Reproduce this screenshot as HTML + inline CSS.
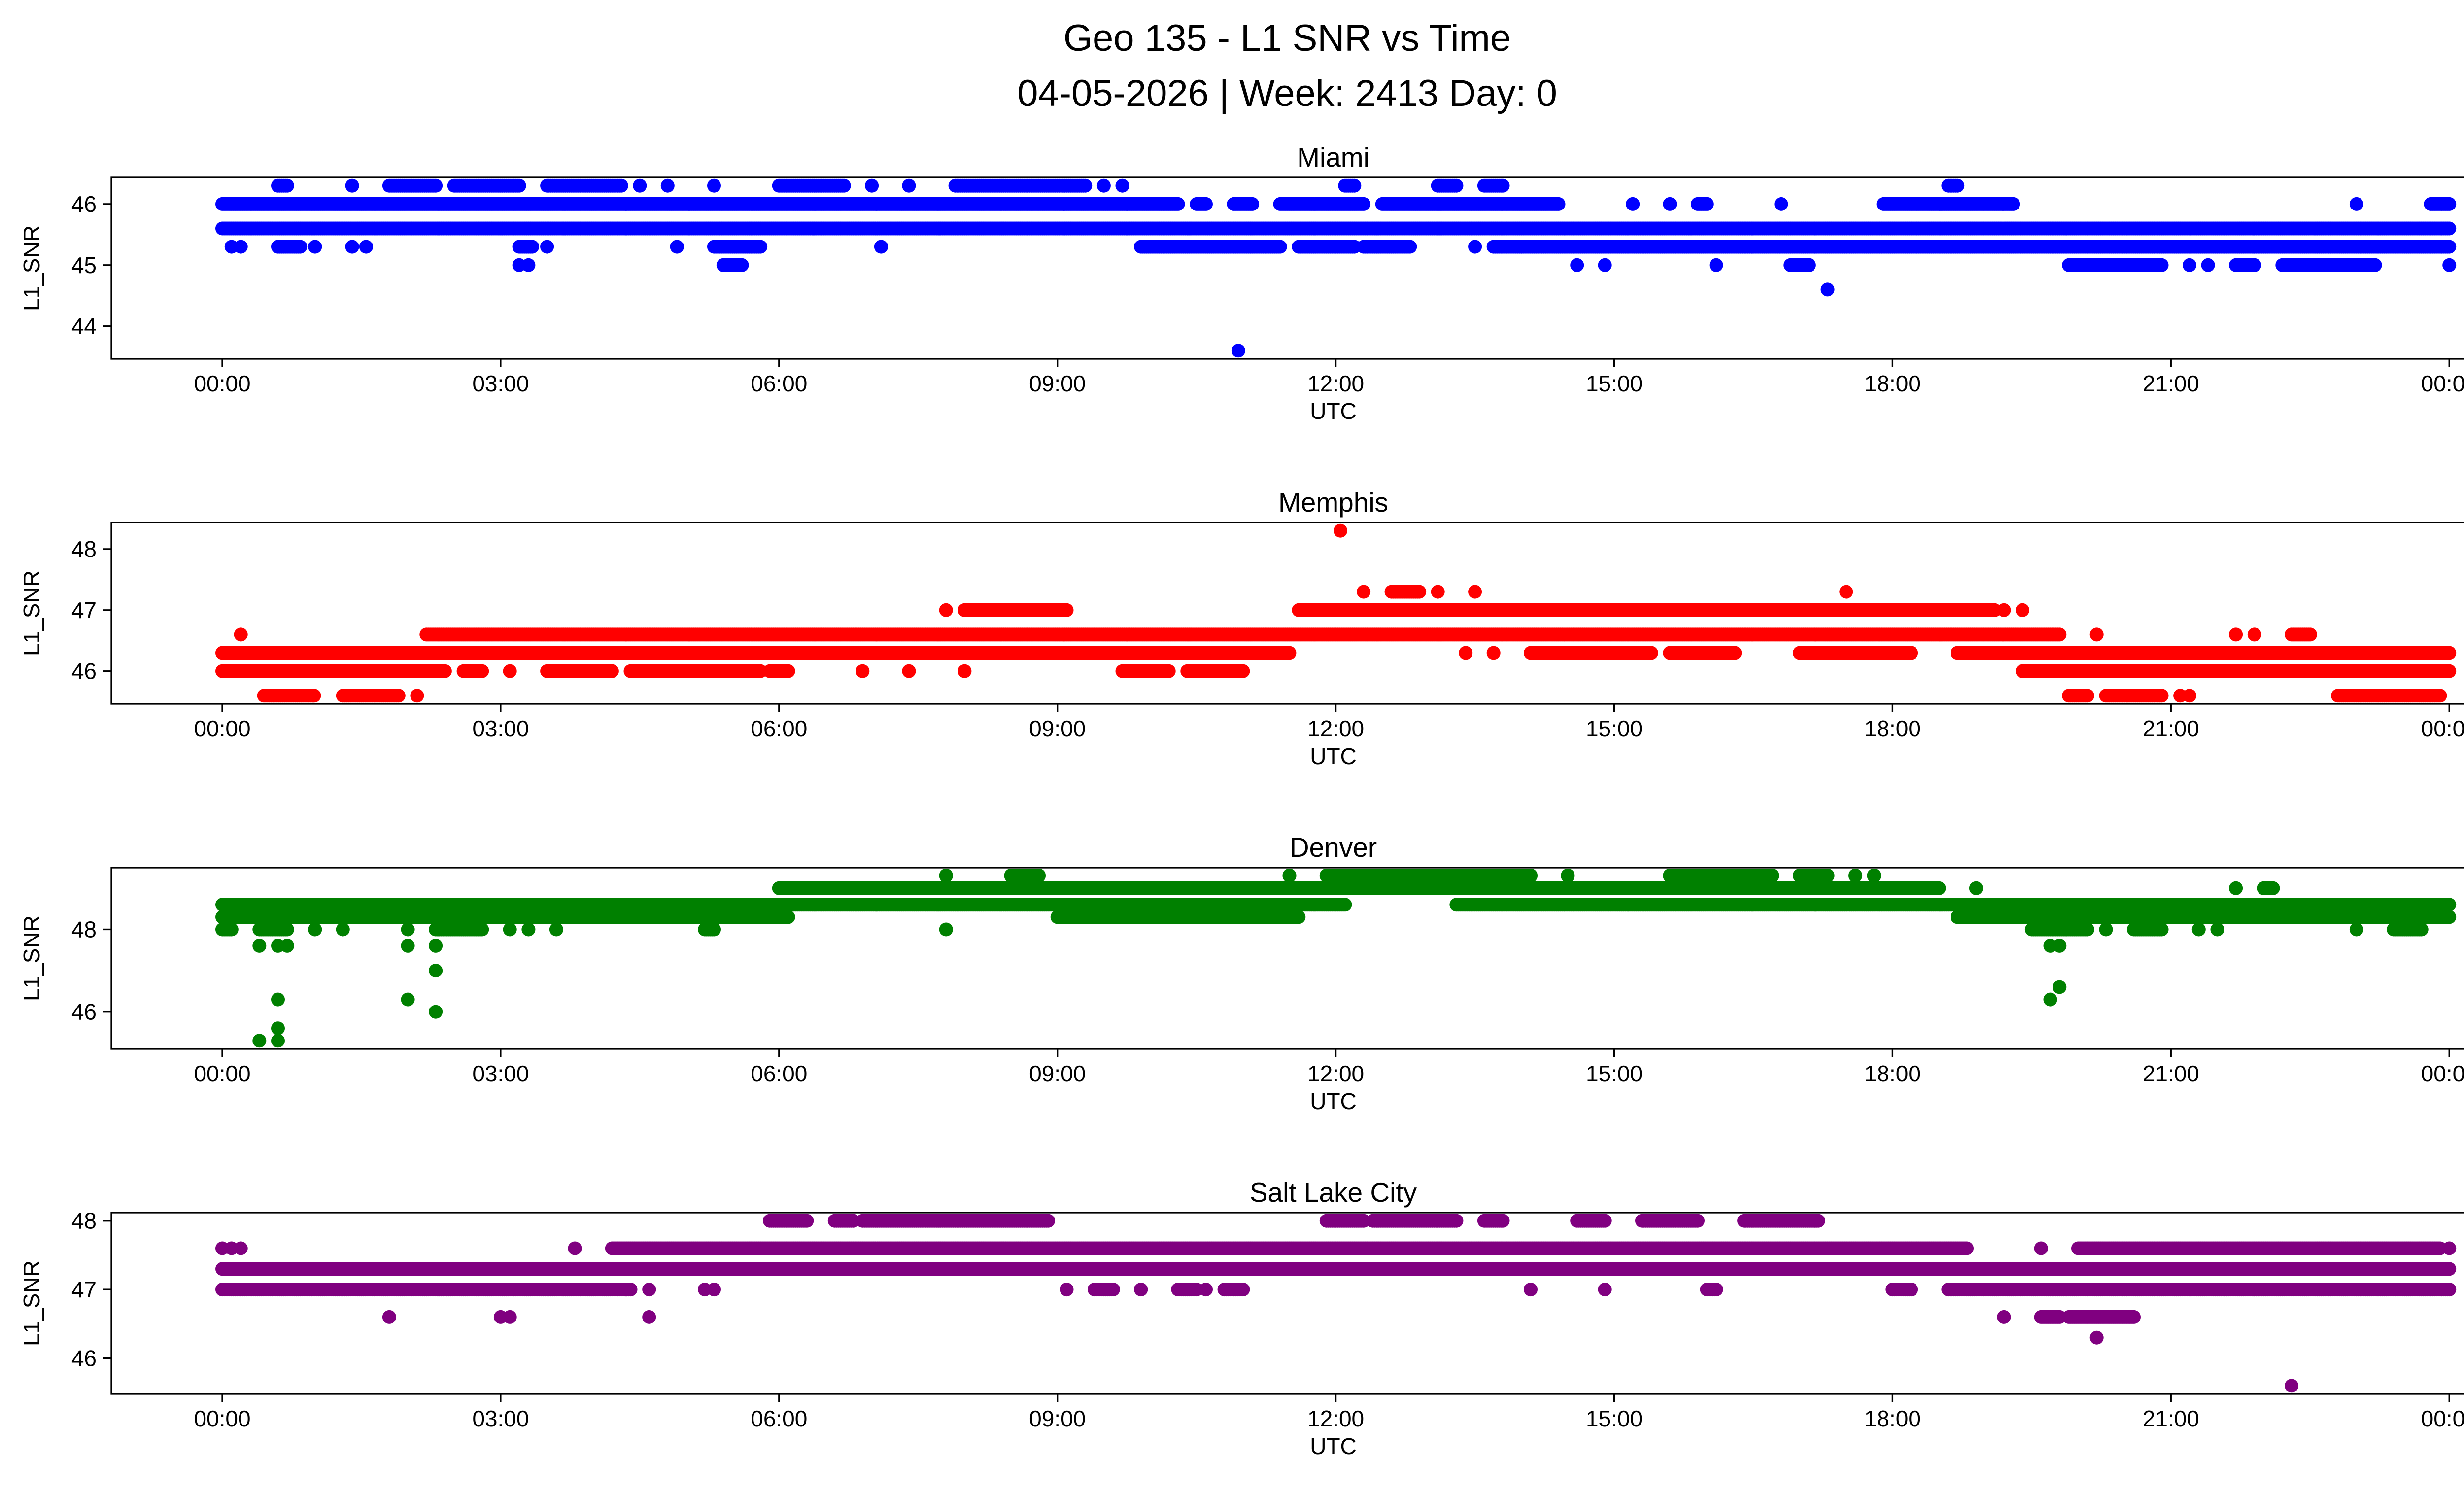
<!DOCTYPE html>
<html><head><meta charset="utf-8">
<style>
html,body{margin:0;padding:0;background:#fff;}
svg{display:block;font-family:"Liberation Sans","DejaVu Sans",sans-serif;}
</style></head>
<body>
<svg id="chart" width="5225" height="3033" viewBox="0 0 5225 3033" xmlns="http://www.w3.org/2000/svg">
<rect width="5225" height="3033" fill="#fff"/>
<text x="2612" y="103" font-size="76" text-anchor="middle">Geo 135 - L1 SNR vs Time</text>
<text x="2612" y="215" font-size="76" text-anchor="middle">04-05-2026 | Week: 2413 Day: 0</text>
<g id="panels"></g>
</svg>
<script>
// ---- Data (hours UTC, SNR level) ----
const tickLabels = ["00:00","03:00","06:00","09:00","12:00","15:00","18:00","21:00","00:00"];
const tickHours = [0,3,6,9,12,15,18,21,24];
const panelNames = ["Miami","Memphis","Denver","Salt Lake City"];
const panelColors = ["#0000ff","#ff0000","#008000","#800080"];
const panelYTicks = [[44,45,46],[46,47,48],[46,48],[46,47,48]];

const miamiLevel = [46.0,46.0,46.0,46.0,46.0,46.0,46.0,46.0,46.0,46.0,46.0,46.0, 45.6, 45.3,45.3,45.3,45.3,45.3,45.3,45.3,45.3,45.3,45.3,45.3,45.3,45.3,45.3,45.3,45.3,45.3, 45.0,45.0,45.0,45.0,45.0,45.0,45.0,45.0,45.0,45.0,45.0,45.0,45.0, 46.3,46.3,46.3,46.3,46.3,46.3,46.3,46.3,46.3,46.3,46.3,46.3,46.3,46.3,46.3,46.3,46.3,46.3, 44.6, 43.6];
const miamiStart = [0,10.5,10.9,11.4,12.5,15.2,15.6,15.9,16.8,17.9,23.0,23.8, 0, 0.1,0.2,0.6,1.0,1.4,1.55,3.2,3.5,4.9,5.3,7.1,9.9,11.6,12.3,13.5,13.7,14.0, 3.2,5.4,14.6,14.9,16.1,16.9,19.9,21.2,21.4,21.7,22.2,24.0,3.3, 0.6,1.4,1.8,2.5,3.5,4.5,4.8,5.3,6.0,7.0,7.4,7.9,9.5,9.7,12.1,13.1,13.6,18.6, 17.3, 10.95];
const miamiEnd   = [10.3,10.6,11.1,12.3,14.4,15.2,15.6,16.0,16.8,19.3,23.0,24.0, 24, 0.1,0.2,0.85,1.0,1.4,1.55,3.35,3.5,4.9,5.8,7.1,11.4,12.2,12.8,13.5,14.0,24.0, 3.2,5.6,14.6,14.9,16.1,17.1,20.9,21.2,21.4,21.9,23.2,24.0,3.3, 0.7,1.4,2.3,3.2,4.3,4.5,4.8,5.3,6.7,7.0,7.4,9.3,9.5,9.7,12.2,13.3,13.8,18.7, 17.3, 10.95];

const memphisLevel = [46.3,46.3,46.3,46.3,46.3,46.3,46.3, 46.0,46.0,46.0,46.0,46.0,46.0,46.0,46.0,46.0,46.0,46.0,46.0, 46.6,46.6,46.6,46.6,46.6,46.6, 47.0,47.0,47.0,47.0,47.0, 47.3,47.3,47.3,47.3,47.3, 48.3, 45.6,45.6,45.6,45.6,45.6,45.6,45.6,45.6];
const memphisStart = [0,13.4,13.7,14.1,15.6,17.0,18.7, 0,2.6,3.1,3.5,4.4,5.9,6.9,7.4,8.0,9.7,10.4,19.4, 0.2,2.2,20.2,21.7,21.9,22.3, 7.8,8.0,11.6,19.2,19.4, 12.3,12.6,13.1,13.5,17.5, 12.05, 0.45,1.3,2.1,19.9,20.3,21.1,21.2,22.8];
const memphisEnd   = [11.5,13.4,13.7,15.4,16.3,18.2,24, 2.4,2.8,3.1,4.2,5.8,6.1,6.9,7.4,8.0,10.2,11.0,24, 0.2,19.8,20.2,21.7,21.9,22.5, 7.8,9.1,19.1,19.2,19.4, 12.3,12.9,13.1,13.5,17.5, 12.05, 1.0,1.9,2.1,20.1,20.9,21.1,21.2,23.9];

const denverLevel = [48.6,48.6, 48.3,48.3,48.3, 49.0,49.0,49.0,49.0, 49.3,49.3,49.3,49.3,49.3,49.3,49.3,49.3,49.3, 48.0,48.0,48.0,48.0,48.0,48.0,48.0,48.0,48.0,48.0,48.0,48.0,48.0,48.0,48.0,48.0,48.0,48.0, 47.6,47.6,47.6,47.6,47.6,47.6,47.6, 47.0, 46.3,46.3,46.3, 46.6, 46.0, 45.6, 45.3,45.3];
const denverStart = [0,13.3, 0,9.0,18.7, 6.0,18.9,21.7,22.0, 7.8,8.5,11.5,11.9,14.5,15.6,17.0,17.6,17.8, 0,0.4,1.0,1.3,2.0,2.3,3.1,3.3,3.6,5.2,7.8,19.5,20.3,20.6,21.3,21.5,23.0,23.4, 0.4,0.6,0.7,2.0,2.3,19.7,19.8, 2.3, 0.6,2.0,19.7, 19.8, 2.3, 0.6, 0.4,0.6];
const denverEnd   = [12.1,24, 6.1,11.6,24, 18.5,18.9,21.7,22.1, 7.8,8.8,11.5,14.1,14.5,16.7,17.3,17.6,17.8, 0.1,0.7,1.0,1.3,2.0,2.8,3.1,3.3,3.6,5.3,7.8,20.1,20.3,20.9,21.3,21.5,23.0,23.7, 0.4,0.6,0.7,2.0,2.3,19.7,19.8, 2.3, 0.6,2.0,19.7, 19.8, 2.3, 0.6, 0.4,0.6];

const slcLevel = [47.3, 47.0,47.0,47.0,47.0,47.0,47.0,47.0,47.0,47.0,47.0,47.0,47.0,47.0,47.0,47.0, 47.6,47.6,47.6,47.6,47.6,47.6,47.6,47.6, 48.0,48.0,48.0,48.0,48.0,48.0,48.0,48.0,48.0, 46.6,46.6,46.6,46.6,46.6,46.6,46.6, 46.3, 45.6];
const slcStart = [0, 0,4.6,5.2,5.3,9.1,9.4,9.9,10.3,10.6,10.8,14.1,14.9,16.0,18.0,18.6, 0,3.8,4.2,19.6,20.0,24.0,0.1,0.2, 5.9,6.6,6.9,11.9,12.4,13.6,14.6,15.3,16.4, 1.8,3.0,3.1,4.6,19.2,19.6,19.9, 20.2, 22.3];
const slcEnd   = [24, 4.4,4.6,5.2,5.3,9.1,9.6,9.9,10.5,10.6,11.0,14.1,14.9,16.1,18.2,24, 0,3.8,18.8,19.6,23.9,24.0,0.1,0.2, 6.3,6.8,8.9,12.3,13.3,13.8,14.9,15.9,17.2, 1.8,3.0,3.1,4.6,19.2,19.8,20.6, 20.2, 22.3];

const panelLevels = [miamiLevel, memphisLevel, denverLevel, slcLevel];
const panelStarts = [miamiStart, memphisStart, denverStart, slcStart];
const panelEnds = [miamiEnd, memphisEnd, denverEnd, slcEnd];
const panelYMin = [43.465, 45.465, 45.1, 45.48];
const panelYMax = [46.435, 48.435, 49.5, 48.12];

// ---- Layout ----
const NS = "http://www.w3.org/2000/svg";
const AX_L = 226, AX_R = 5185, AX_H = 368;
const AX_TOPS = [360, 1060, 1760, 2460];
const X0 = 451, PER_H = 188.3;
function xScale(t){ return X0 + t*PER_H; }
function yScale(p, v){ return AX_TOPS[p] + (panelYMax[p]-v)/(panelYMax[p]-panelYMin[p])*AX_H; }
function mk(tag, attrs){ const e=document.createElementNS(NS,tag); for(const k in attrs) e.setAttribute(k, attrs[k]); return e; }

const root = document.getElementById('panels');
for(let p=0;p<4;p++){
  const g = mk('g',{});
  
  
  root.appendChild(g);
  const top = AX_TOPS[p];
  const tt = mk('text',{x:(AX_L+AX_R)/2, y:top-22, 'font-size':55, 'text-anchor':'middle'});
  tt.textContent = panelNames[p];
  
  
  g.appendChild(tt);
  const pts = mk('g',{fill:panelColors[p]});
  
  
  g.appendChild(pts);
  const L = panelLevels[p], S = panelStarts[p], E = panelEnds[p];
  for(let i=0;i<L.length;i++){
    const cy = yScale(p, L[i]);
    for(let t=S[i]; t<=E[i]+1e-9; t+=0.02){
      const c = mk('circle',{cx:xScale(t).toFixed(1), cy:cy.toFixed(1), r:14});
      
      
      pts.appendChild(c);
    }
  }
  const fr = mk('rect',{x:AX_L, y:top, width:AX_R-AX_L, height:AX_H, fill:'none', stroke:'#000', 'stroke-width':3.3});
  
  
  g.appendChild(fr);
  for(let k=0;k<tickHours.length;k++){
    const x = xScale(tickHours[k]);
    const ln = mk('line',{x1:x, x2:x, y1:top+AX_H, y2:top+AX_H+16, stroke:'#000', 'stroke-width':3.3});
    
    
    g.appendChild(ln);
    const tx = mk('text',{x:x, y:top+AX_H+66, 'font-size':46, 'text-anchor':'middle'});
    tx.textContent = tickLabels[k];
    
    
    g.appendChild(tx);
  }
  const xl = mk('text',{x:(AX_L+AX_R)/2, y:top+AX_H+122, 'font-size':46, 'text-anchor':'middle'});
  xl.textContent = 'UTC';
  
  
  g.appendChild(xl);
  const yt = panelYTicks[p];
  for(let k=0;k<yt.length;k++){
    const y = yScale(p, yt[k]);
    const ln = mk('line',{x1:AX_L-16, x2:AX_L, y1:y, y2:y, stroke:'#000', 'stroke-width':3.3});
    
    
    g.appendChild(ln);
    const tx = mk('text',{x:AX_L-30, y:y+16, 'font-size':46, 'text-anchor':'end'});
    tx.textContent = String(yt[k]);
    
    
    g.appendChild(tx);
  }
  const yl = mk('text',{x:0, y:0, 'font-size':46, 'text-anchor':'middle', transform:`translate(80 ${top+AX_H/2}) rotate(-90)`});
  yl.textContent = 'L1_SNR';
  
  
  g.appendChild(yl);
}
</script>
</body></html>
